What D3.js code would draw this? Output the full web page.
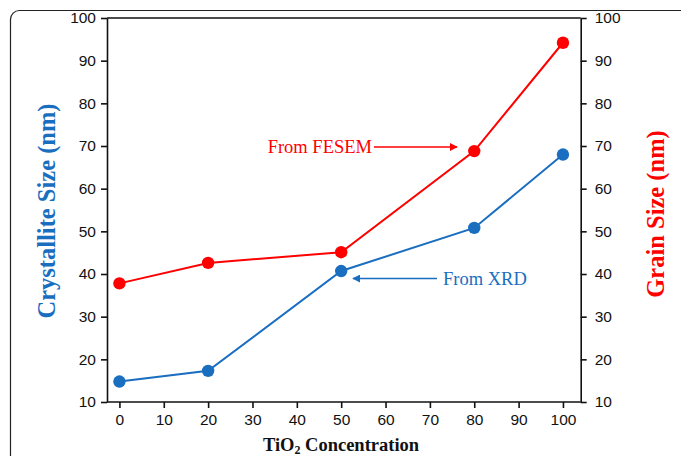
<!DOCTYPE html>
<html><head><meta charset="utf-8">
<script src="https://cdn.jsdelivr.net/npm/d3@7/dist/d3.min.js"></script>
<style>body{margin:0;background:#fff}svg{display:block}</style>
</head><body>
<script>
const concentration = [0, 20, 50, 80, 100];
const crystalliteXRD = [14.8, 17.3, 40.7, 50.8, 68.0];
const grainFESEM = [37.8, 42.6, 45.1, 68.8, 94.2];
const xTicks = [0,10,20,30,40,50,60,70,80,90,100];
const yTicks = [10,20,30,40,50,60,70,80,90,100];

const W = 681, H = 456;
const blue = "#1a6ec0", red = "#ff0000";
const svg = d3.select("body").append("svg").attr("width", W).attr("height", H);

// outer frame
svg.append("rect").attr("x",10.5).attr("y",10.5).attr("width",700).attr("height",500)
  .attr("rx",9).attr("fill","none").attr("stroke","#222").attr("stroke-width",1.2);

const L = 107, R = 580.7, T = 18, B = 402;
const x = d3.scaleLinear().domain([-2.8, 104.0]).range([L, R]);
const y = d3.scaleLinear().domain([10, 100]).range([B, T]);

const fontAx = "'Liberation Sans', Arial, sans-serif";
const fontSerif = "'Liberation Serif', 'Times New Roman', serif";

function styleAxis(g){
  g.selectAll("path").attr("stroke","#111").attr("stroke-width",1.6);
  g.selectAll("line").attr("stroke","#111").attr("stroke-width",1.6);
  g.selectAll("text").attr("font-family",fontAx).attr("font-size",15.5).attr("fill","#111");
}

// top frame line
svg.append("line").attr("x1",L).attr("x2",R).attr("y1",T).attr("y2",T)
  .attr("stroke","#111").attr("stroke-width",1.6);

const gx = svg.append("g").attr("transform",`translate(0,${B})`)
  .call(d3.axisBottom(x).tickValues(xTicks).tickSize(6).tickPadding(6).tickSizeOuter(0));
styleAxis(gx);
gx.select("path").attr("d",`M${L},0H${R}`);

const gl = svg.append("g").attr("transform",`translate(${L},0)`)
  .call(d3.axisLeft(y).tickValues(yTicks).tickSize(6).tickPadding(5).tickSizeOuter(0));
styleAxis(gl);

const gr = svg.append("g").attr("transform",`translate(${R},0)`)
  .call(d3.axisRight(y).tickValues(yTicks).tickSize(6).tickPadding(8).tickSizeOuter(0));
styleAxis(gr);

// defs arrowheads
const defs = svg.append("defs");
[["arrRed",red],["arrBlue",blue]].forEach(([id,c])=>{
  defs.append("marker").attr("id",id).attr("viewBox","0 0 10 10").attr("refX",9).attr("refY",5)
    .attr("markerWidth",8).attr("markerHeight",8).attr("markerUnits","userSpaceOnUse").attr("orient","auto")
    .append("path").attr("d","M0,0L10,5L0,10Z").attr("fill",c);
});

const line = d3.line().x((d,i)=>x(concentration[i])).y(d=>y(d));

function series(vals, color){
  svg.append("path").datum(vals).attr("d",line).attr("fill","none")
    .attr("stroke",color).attr("stroke-width",2);
  svg.selectAll(null).data(vals).enter().append("circle")
    .attr("cx",(d,i)=>x(concentration[i])).attr("cy",d=>y(d)).attr("r",6.2).attr("fill",color);
}
series(crystalliteXRD, blue);
series(grainFESEM, red);

// annotations
svg.append("text").attr("x",372).attr("y",153).attr("text-anchor","end")
  .attr("font-family",fontSerif).attr("font-size",18.5).attr("fill",red).text("From FESEM");
svg.append("line").attr("x1",374).attr("x2",457).attr("y1",147).attr("y2",147)
  .attr("stroke",red).attr("stroke-width",1.6).attr("marker-end","url(#arrRed)");

svg.append("text").attr("x",443).attr("y",284.5)
  .attr("font-family",fontSerif).attr("font-size",18.5).attr("fill",blue).text("From XRD");
svg.append("line").attr("x1",437).attr("x2",353).attr("y1",278.5).attr("y2",278.5)
  .attr("stroke",blue).attr("stroke-width",1.6).attr("marker-end","url(#arrBlue)");

// axis titles
svg.append("text").attr("transform","translate(55,211) rotate(-90)").attr("text-anchor","middle")
  .attr("font-family",fontSerif).attr("font-weight","bold").attr("font-size",24.5).attr("fill",blue)
  .text("Crystallite Size (nm)");
svg.append("text").attr("transform","translate(664,214) rotate(-90)").attr("text-anchor","middle")
  .attr("font-family",fontSerif).attr("font-weight","bold").attr("font-size",24.5).attr("fill",red)
  .text("Grain Size (nm)");

const xt = svg.append("text").attr("x",341).attr("y",451).attr("text-anchor","middle")
  .attr("font-family",fontSerif).attr("font-weight","bold").attr("font-size",18.5).attr("fill","#111");
xt.append("tspan").text("TiO");
xt.append("tspan").attr("font-size",12).attr("dy",3).text("2");
xt.append("tspan").attr("dy",-3).text(" Concentration");
</script>
</body></html>
